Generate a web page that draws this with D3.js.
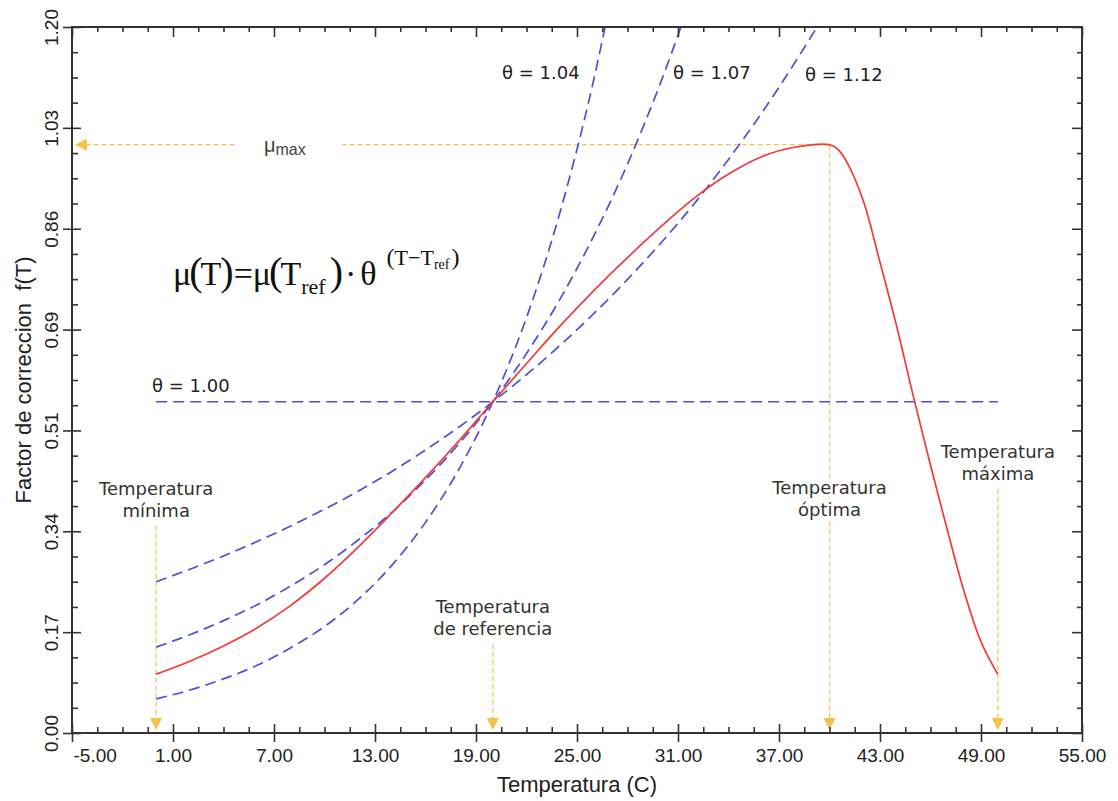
<!DOCTYPE html>
<html>
<head>
<meta charset="utf-8">
<script src="https://cdn.jsdelivr.net/npm/d3@7"></script>
<style>
  body { margin: 0; background: #fff; }
  svg { display: block; }
</style>
</head>
<body>
<div id="chart"></div>
<script>
// Factor de correccion f(T) vs temperatura

// axis ticks
const xTicks = [-5, 1, 7, 13, 19, 25, 31, 37, 43, 49, 55];
const yTicks = [0, 0.1714, 0.3429, 0.5143, 0.6857, 0.8571, 1.0286, 1.2];
const yTickLabels = ["0.00", "0.17", "0.34", "0.51", "0.69", "0.86", "1.03", "1.20"];

// red curve
const redT = [0, 2, 4, 6, 8, 10, 12, 14, 16, 18, 20, 22, 24, 26, 28, 30, 32, 34, 36, 38, 40,
              40.5, 41, 42, 43, 44, 45, 46, 47, 48, 49, 50];
const redF = [0.100, 0.122, 0.148, 0.179, 0.217, 0.263, 0.316, 0.374, 0.434, 0.497, 0.563,
              0.628, 0.692, 0.752, 0.808, 0.861, 0.910, 0.950, 0.980, 0.996, 1.000,
              0.992, 0.972, 0.905, 0.800, 0.690, 0.570, 0.455, 0.345, 0.240, 0.155, 0.100];

// dashed theta curves
const theta100T = [0, 50];
const theta100F = [0.563, 0.563];
const theta104T = [0, 4, 8, 12, 16, 20, 24, 28, 32, 36, 40];
const theta104F = [0.257, 0.301, 0.352, 0.411, 0.481, 0.563, 0.659, 0.771, 0.901, 1.055, 1.234];
const theta107T = [0, 2, 4, 6, 8, 10, 12, 14, 16, 18, 20, 22, 24, 26, 28, 30, 32];
const theta107F = [0.146, 0.167, 0.191, 0.218, 0.250, 0.286, 0.328, 0.375, 0.430, 0.492, 0.563,
                   0.645, 0.738, 0.845, 0.967, 1.108, 1.268];
const theta112T = [0, 2, 4, 6, 8, 10, 12, 14, 16, 18, 20, 22, 24, 26, 28];
const theta112F = [0.058, 0.073, 0.092, 0.115, 0.145, 0.181, 0.227, 0.285, 0.358, 0.449, 0.563,
                   0.706, 0.886, 1.111, 1.394];

// key temperatures and max rate
const keyTemps = [0, 20, 40, 50];
const keyNames = [["Temperatura", "mínima"], ["Temperatura", "de referencia"],
                  ["Temperatura", "óptima"], ["Temperatura", "máxima"]];
const muMax = 1.0;

const width = 1118, height = 801;
const x = d3.scaleLinear([-5, 55], [72, 1082]);
const y = d3.scaleLinear([0, 1.2], [733, 27]);

const svg = d3.select("#chart").append("svg")
  .attr("width", width)
  .attr("height", height)
  .style("font-family", "'Liberation Sans', Arial, sans-serif");

svg.append("defs").append("clipPath").attr("id", "plot")
  .append("rect")
  .attr("x", x(-5)).attr("y", y(1.2))
  .attr("width", x(55) - x(-5)).attr("height", y(0) - y(1.2));

const orange = "#f7c75c";
const arrowCol = "#f6c04a";
const blue = "#4f4fd6";
const red = "#f23a3a";
const ink = "#333";

// ---- annotation lines (orange) ----
const ann = svg.append("g");

// mu max horizontal
ann.append("line")
  .attr("x1", x(-5) + 14).attr("x2", x(40))
  .attr("y1", y(muMax)).attr("y2", y(muMax))
  .attr("stroke", orange).attr("stroke-width", 1.3).attr("stroke-dasharray", "5,3");
ann.append("path")
  .attr("d", `M${x(-5) + 3},${y(muMax)} l12,-6 l0,12 z`)
  .attr("fill", arrowCol);

// label for mu max with white box breaking the line
const muX = 264, muY = y(muMax) + 7;
ann.append("rect")
  .attr("x", muX - 28).attr("y", y(muMax) - 6)
  .attr("width", 104).attr("height", 12)
  .attr("fill", "#fff");
const muText = ann.append("text")
  .attr("x", muX).attr("y", muY)
  .attr("fill", "#444")
  .style("font-size", "20px");
muText.append("tspan").text("μ");
muText.append("tspan").attr("dy", 3).style("font-size", "16px").text("max");

// vertical lines at key temperatures
const labelBase = [495, 613, 494, 458];
keyTemps.forEach((t, i) => {
  const top = i === 2 ? y(muMax) : labelBase[i] + 22 + 9;
  ann.append("line")
    .attr("x1", x(t)).attr("x2", x(t))
    .attr("y1", top).attr("y2", y(0) - 14)
    .attr("stroke", orange).attr("stroke-width", 1.3).attr("stroke-dasharray", "5,3");
  ann.append("path")
    .attr("d", `M${x(t)},${y(0) - 3} l-6,-12 l12,0 z`)
    .attr("fill", arrowCol);
});

// ---- curves ----
const plot = svg.append("g").attr("clip-path", "url(#plot)");
const line = d3.line()
  .x(d => x(d[0]))
  .y(d => y(d[1]))
  .curve(d3.curveMonotoneX);

const thetaSeries = [
  [theta100T, theta100F],
  [theta104T, theta104F],
  [theta107T, theta107F],
  [theta112T, theta112F]
];
thetaSeries.forEach(([ts, fs]) => {
  plot.append("path")
    .datum(ts.map((t, i) => [t, fs[i]]))
    .attr("fill", "none")
    .attr("stroke", blue)
    .attr("stroke-width", 1.7)
    .attr("stroke-dasharray", "11,6")
    .attr("d", line);
});

plot.append("path")
  .datum(redT.map((t, i) => [t, redF[i]]))
  .attr("fill", "none")
  .attr("stroke", red)
  .attr("stroke-width", 1.7)
  .attr("d", d3.line().x(d => x(d[0])).y(d => y(d[1])).curve(d3.curveCatmullRom));

// ---- key temperature labels ----
const lab = svg.append("g")
  .style("font-family", "'DejaVu Sans', Verdana, sans-serif")
  .style("font-size", "18px")
  .attr("fill", ink)
  .attr("text-anchor", "middle");
keyTemps.forEach((t, i) => {
  const txt = lab.append("text")
    .attr("x", x(t))
    .attr("y", labelBase[i])
    .attr("stroke", "#fff").attr("stroke-width", 6)
    .attr("paint-order", "stroke");
  txt.append("tspan").attr("x", x(t)).text(keyNames[i][0]);
  txt.append("tspan").attr("x", x(t)).attr("dy", 22).text(keyNames[i][1]);
});

// theta labels
const thetaLabels = [
  ["θ = 1.00", 152, 392],
  ["θ = 1.04", 502, 79],
  ["θ = 1.07", 673, 79],
  ["θ = 1.12", 805, 81]
];
svg.append("g")
  .style("font-family", "'DejaVu Sans', Verdana, sans-serif")
  .style("font-size", "18px")
  .attr("fill", "#222")
  .selectAll("text")
  .data(thetaLabels)
  .join("text")
  .attr("x", d => d[1])
  .attr("y", d => d[2])
  .text(d => d[0]);

// ---- formula: mu(T) = mu(Tref) . theta^(T - Tref) ----
const f = svg.append("text")
  .style("font-family", "'Liberation Serif', 'Times New Roman', serif")
  .attr("fill", "#111")
  .attr("x", 173)
  .attr("y", 285);
// [text, font size, dx, dy]
const parts = [
  ["μ", 34, 0, 0],
  ["(", 40, -2, 0],
  ["T", 34, -2, 0],
  [")", 40, -1, 0],
  ["=", 34, 0, 0],
  ["μ", 34, 0, 0],
  ["(", 40, -2, 0],
  ["T", 34, -2, 0],
  ["ref", 22, 0, 9],
  [")", 40, 4, -9],
  ["·", 34, 2, 0],
  ["θ", 34, 4, 0],
  ["(", 24, 10, -20],
  ["T−T", 22, 0, 0],
  ["ref", 14, 0, 4],
  [")", 24, 2, -4]
];
parts.forEach(p => {
  f.append("tspan")
    .attr("dx", p[2]).attr("dy", p[3])
    .style("font-size", p[1] + "px")
    .text(p[0]);
});

// ---- axes ----
const xMinor = d3.range(-5, 55.01, 1.5).filter(v => !xTicks.some(t => Math.abs(t - v) < 1e-6));
const yMinor = d3.range(0, 1.2001, 1.2 / 28).filter(v => !yTicks.some(t => Math.abs(t - v) < 1e-3));

function styleAxis(g) {
  g.select(".domain").remove();
  g.selectAll(".tick line").attr("stroke", "#333").attr("stroke-width", 1.6);
}

// bottom
svg.append("g").attr("transform", `translate(0,${y(0)})`)
  .call(d3.axisBottom(x).tickValues(xTicks).tickSize(9).tickPadding(7)
    .tickFormat(d => d.toFixed(2)))
  .call(styleAxis)
  .call(g => g.selectAll("text")
    .attr("fill", "#222")
    .style("font-size", "19px")
    .style("font-family", "'Liberation Sans', Arial, sans-serif")
    .filter(d => d === -5).attr("text-anchor", "start").attr("x", 1));
svg.append("g").attr("transform", `translate(0,${y(0)})`)
  .call(d3.axisBottom(x).tickValues(xTicks).tickSize(-9).tickFormat(""))
  .call(styleAxis);
svg.append("g").attr("transform", `translate(0,${y(0)})`)
  .call(d3.axisBottom(x).tickValues(xMinor).tickSize(-6).tickFormat(""))
  .call(styleAxis);

// top
svg.append("g").attr("transform", `translate(0,${y(1.2)})`)
  .call(d3.axisTop(x).tickValues(xTicks).tickSize(-10).tickFormat(""))
  .call(styleAxis);
svg.append("g").attr("transform", `translate(0,${y(1.2)})`)
  .call(d3.axisTop(x).tickValues(xMinor).tickSize(-5).tickFormat(""))
  .call(styleAxis);

// left
svg.append("g").attr("transform", `translate(${x(-5)},0)`)
  .call(d3.axisLeft(y).tickValues(yTicks).tickSize(9)
    .tickFormat((d, i) => yTickLabels[i]))
  .call(styleAxis)
  .call(g => g.selectAll("text")
    .attr("fill", "#222")
    .style("font-size", "19px")
    .style("font-family", "'Liberation Sans', Arial, sans-serif")
    .attr("x", 0).attr("y", -14).attr("dy", 0)
    .attr("text-anchor", "middle")
    .attr("transform", "rotate(-90)"));
svg.append("g").attr("transform", `translate(${x(-5)},0)`)
  .call(d3.axisLeft(y).tickValues(yTicks).tickSize(-9).tickFormat(""))
  .call(styleAxis);
svg.append("g").attr("transform", `translate(${x(-5)},0)`)
  .call(d3.axisLeft(y).tickValues(yMinor).tickSize(-6).tickFormat(""))
  .call(styleAxis);

// right
svg.append("g").attr("transform", `translate(${x(55)},0)`)
  .call(d3.axisRight(y).tickValues(yTicks).tickSize(-10).tickFormat(""))
  .call(styleAxis);
svg.append("g").attr("transform", `translate(${x(55)},0)`)
  .call(d3.axisRight(y).tickValues(yMinor).tickSize(-5).tickFormat(""))
  .call(styleAxis);

// frame
svg.append("rect")
  .attr("x", x(-5)).attr("y", y(1.2))
  .attr("width", x(55) - x(-5)).attr("height", y(0) - y(1.2))
  .attr("fill", "none").attr("stroke", "#333").attr("stroke-width", 2);

// axis titles
svg.append("text")
  .attr("x", (x(-5) + x(55)) / 2)
  .attr("y", 792)
  .attr("text-anchor", "middle")
  .attr("fill", "#222")
  .style("font-size", "22px")
  .text("Temperatura (C)");

svg.append("text")
  .attr("transform", `translate(31,${(y(0) + y(1.2)) / 2}) rotate(-90)`)
  .attr("text-anchor", "middle")
  .attr("fill", "#222")
  .style("font-size", "22px")
  .style("white-space", "pre")
  .text("Factor de correccion  f(T)");
</script>
</body>
</html>
